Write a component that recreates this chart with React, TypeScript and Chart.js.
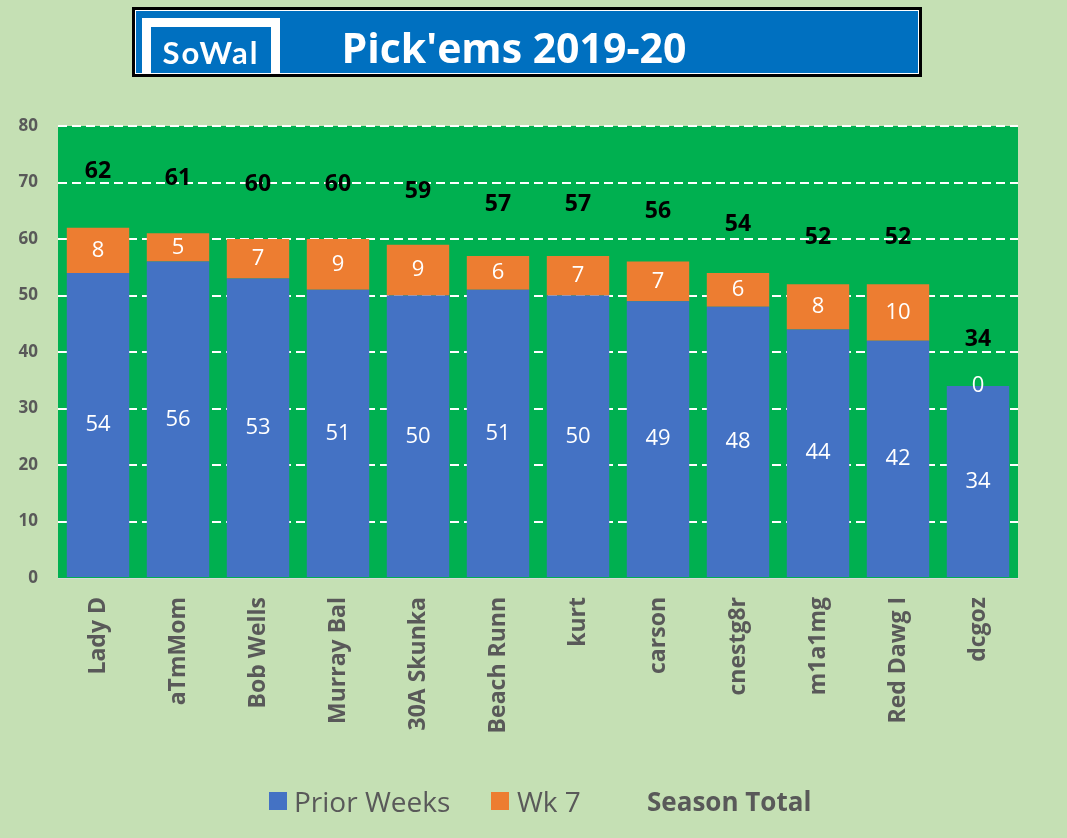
import React, { useEffect, useRef } from "react";
import { Chart, registerables } from "chart.js";

Chart.register(...registerables);

const players = ["Lady D", "aTmMom", "Bob Wells", "Murray Bal", "30A Skunka", "Beach Runn", "kurt", "carson", "cnestg8r", "m1a1mg", "Red Dawg I", "dcgoz"];
const priorWeeks = [54, 56, 53, 51, 50, 51, 50, 49, 48, 44, 42, 34];
const week7 = [8, 5, 7, 9, 9, 6, 7, 7, 6, 8, 10, 0];
const seasonTotal = [62, 61, 60, 60, 59, 57, 57, 56, 54, 52, 52, 34];
const yMin = 0;
const yMax = 80;
const yStep = 10;

const FONT = "'Open Sans', 'Noto Sans', sans-serif";
const GRAY = "#595959";
const BG = "#C5E0B4";
const PLOT = "#00B050";
const BLUE = "#4472C4";
const ORANGE = "#ED7D31";

const plotBg = {
  id: "plotBg",
  beforeDraw(chart: any) {
    const { ctx, chartArea } = chart;
    ctx.save();
    ctx.fillStyle = PLOT;
    ctx.fillRect(chartArea.left, chartArea.top, chartArea.right - chartArea.left, chartArea.bottom - chartArea.top);
    ctx.restore();
  },
};

const barLabels = {
  id: "barLabels",
  afterDatasetsDraw(chart: any) {
    const { ctx } = chart;
    ctx.save();
    ctx.textAlign = "center";
    ctx.textBaseline = "middle";
    ctx.fillStyle = "#FFFFFF";
    ctx.font = `22px ${FONT}`;
    [0, 1].forEach((di) => {
      const meta = chart.getDatasetMeta(di);
      const data = chart.data.datasets[di].data as number[];
      meta.data.forEach((el: any, i: number) => {
        const { x, y, base } = el.getProps(["x", "y", "base"], true);
        ctx.fillText(String(data[i]), x, (y + base) / 2);
      });
    });
    const yScale = chart.scales.y;
    const meta0 = chart.getDatasetMeta(0);
    ctx.fillStyle = "#000000";
    ctx.font = `bold 23px ${FONT}`;
    seasonTotal.forEach((t, i) => {
      const x = meta0.data[i].x;
      const y = Math.min(yScale.getPixelForValue(t * 1.16), yScale.getPixelForValue(t) - 46);
      ctx.fillText(String(t), x, y);
    });
    ctx.restore();
  },
};

export default function App() {
  const ref = useRef<HTMLCanvasElement | null>(null);

  useEffect(() => {
    if (!ref.current) return;
    const chart = new Chart(ref.current, {
      type: "bar",
      data: {
        labels: players,
        datasets: [
          { label: "Prior Weeks", data: priorWeeks, backgroundColor: BLUE, stack: "s", categoryPercentage: 0.78, barPercentage: 1 },
          { label: "Wk 7", data: week7, backgroundColor: ORANGE, stack: "s", categoryPercentage: 0.78, barPercentage: 1 },
        ],
      },
      options: {
        animation: false,
        responsive: true,
        maintainAspectRatio: false,
        layout: { padding: { left: 0, top: 126, right: 49, bottom: 0 } },
        plugins: { legend: { display: false }, tooltip: { enabled: false }, title: { display: false } },
        scales: {
          x: {
            stacked: true,
            grid: { display: false, drawTicks: false },
            border: { display: true, color: "#D9D9D9", width: 1 },
            ticks: {
              minRotation: 90,
              maxRotation: 90,
              padding: 19,
              color: GRAY,
              font: { family: FONT, size: 23, weight: "bold" },
            },
            afterFit(scale: any) {
              scale.height = 260;
            },
          },
          y: {
            stacked: true,
            min: yMin,
            max: yMax,
            ticks: {
              stepSize: yStep,
              padding: 20,
              color: GRAY,
              font: { family: FONT, size: 17, weight: "bold" },
            },
            grid: {
              drawTicks: false,
              color: (c: any) => (c.tick && c.tick.value === 0 ? "rgba(0,0,0,0)" : "#FFFFFF"),
              lineWidth: 2,
            },
            border: { display: false, dash: [9, 5] },
            afterFit(scale: any) {
              scale.width = 58;
            },
          },
        },
      },
      plugins: [plotBg, barLabels],
    });
    return () => chart.destroy();
  }, []);

  return (
    <div style={{ position: "fixed", left: 0, top: 0, width: 1067, height: 838, background: BG, overflow: "hidden", fontFamily: FONT }}>
      <canvas ref={ref} style={{ position: "absolute", left: 0, top: 0, width: 1067, height: 838 }} />
      <div
        style={{
          position: "absolute",
          left: 132,
          top: 7,
          width: 784,
          height: 64,
          border: "3px solid #000",
          boxShadow: "inset 0 0 0 1px #FFFFFF",
          background: "#0070C0",
        }}
      >
        <div
          style={{
            position: "absolute",
            left: 7,
            top: 8,
            width: 120,
            height: 47,
            borderLeft: "9px solid #FFFFFF",
            borderRight: "9px solid #FFFFFF",
            borderTop: "9px solid #FFFFFF",
            boxSizing: "content-box",
            color: "#FFFFFF",
            fontFamily: "Lato, 'Open Sans', sans-serif",
            fontWeight: 700,
            fontSize: 31,
            letterSpacing: 2,
            lineHeight: "50px",
            textAlign: "center",
          }}
        >
          SoWal
        </div>
        <div
          style={{
            position: "absolute",
            left: 180,
            right: 206,
            top: 5,
            height: 64,
            lineHeight: "64px",
            textAlign: "center",
            color: "#FFFFFF",
            fontWeight: 700,
            fontSize: 41,
            whiteSpace: "nowrap",
          }}
        >
          Pick'ems 2019-20
        </div>
      </div>
      <div style={{ position: "absolute", left: 0, top: 783, width: 1067, height: 36, color: GRAY, fontSize: 28 }}>
        <div style={{ position: "absolute", left: 269, top: 9, width: 18, height: 18, background: BLUE }} />
        <div style={{ position: "absolute", left: 294, top: 0, lineHeight: "36px", whiteSpace: "nowrap" }}>Prior Weeks</div>
        <div style={{ position: "absolute", left: 491, top: 9, width: 18, height: 18, background: ORANGE }} />
        <div style={{ position: "absolute", left: 517, top: 0, lineHeight: "36px", whiteSpace: "nowrap" }}>Wk 7</div>
        <div style={{ position: "absolute", left: 647, top: 0, lineHeight: "36px", whiteSpace: "nowrap", fontWeight: 700, fontSize: 26 }}>Season Total</div>
      </div>
    </div>
  );
}
